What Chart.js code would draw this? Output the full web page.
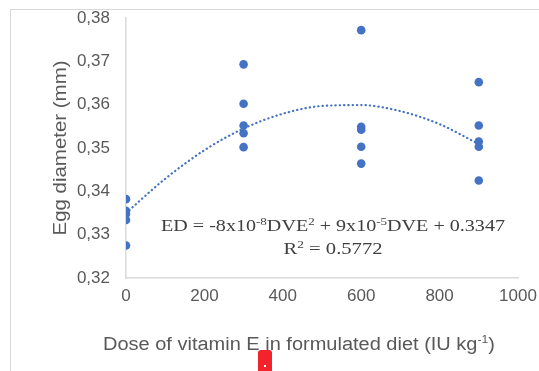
<!DOCTYPE html>
<html>
<head>
<meta charset="utf-8">
<script src="https://cdn.jsdelivr.net/npm/chart.js@4"></script>
<style>
  body { margin: 0; background: #fff; }
  #wrap { position: relative; width: 539px; height: 371px; overflow: hidden; }
  #frame { position: absolute; left: 10px; top: 9px; width: 540px; height: 370px; border: 1px solid #d9d9d9; box-sizing: border-box; }
  #mark { position: absolute; left: 258px; top: 350px; width: 14px; height: 24px; background: #f2232a; border-radius: 3px; }
  #mark::after { content: ''; position: absolute; left: 6px; top: 15px; width: 2px; height: 2px; background: #fff; }
  canvas { position: absolute; left: 0; top: 0; }
</style>
</head>
<body>
<div id="wrap">
  <div id="frame"></div>
  <canvas id="eggChart" width="539" height="371"></canvas>
  <div id="mark"></div>
</div>
<script>
// doses (IU/kg) and egg diameters
const doses = [0, 300, 600, 900];
const diameters = [
    [0.3382, 0.3355, 0.3348, 0.3334, 0.3275],
    [0.3693, 0.3602, 0.3552, 0.3534, 0.3502],
    [0.3772, 0.3549, 0.3542, 0.3503, 0.3464],
    [0.3652, 0.3552, 0.3515, 0.3503, 0.3425]
];

// polynomial trendline as drawn in the figure
const trendDose = [0, 100, 200, 300, 400, 500, 600, 700, 800, 900];
const trendDiam = [0.3350, 0.3429, 0.3495, 0.3545, 0.3579, 0.3597, 0.3599, 0.3585, 0.3555, 0.3509];

const xTicks = [0, 200, 400, 600, 800, 1000];
const yTicks = [0.32, 0.33, 0.34, 0.35, 0.36, 0.37, 0.38];

const eqLine1 = [['ED = -8x10', 0], ['-8', 1], ['DVE', 0], ['2', 1], [' + 9x10', 0], ['-5', 1], ['DVE + 0.3347', 0]];
const eqLine2 = [['R', 0], ['2', 1], [' = 0.5772', 0]];
const xTitle = [['Dose of vitamin E in formulated diet (IU kg', 0], ['-1', 1], [')', 0]];
const yTitle = [['Egg diameter (mm)', 0]];

const BLUE = '#4472c4';
const TEXT = '#595959';
const AXIS = '#d9d9d9';
const SANS = "'Liberation Sans', Arial, sans-serif";
const SERIF = "'Liberation Serif', 'Times New Roman', serif";

const points = [];
doses.forEach((d, i) => diameters[i].forEach(v => points.push({ x: d, y: v })));
const trend = trendDose.map((d, i) => ({ x: d, y: trendDiam[i] }));

// text with superscript parts, centred at (0,0) on the baseline, stretched to width w
function drawParts(ctx, parts, size, family, w) {
    const big = size + 'px ' + family;
    const small = Math.round(size * 0.62) + 'px ' + family;
    let total = 0;
    parts.forEach(([t, sup]) => {
        ctx.font = sup ? small : big;
        total += ctx.measureText(t).width;
    });
    ctx.scale(w / total, 1);
    let x = -total / 2;
    ctx.textAlign = 'left';
    ctx.textBaseline = 'alphabetic';
    parts.forEach(([t, sup]) => {
        ctx.font = sup ? small : big;
        ctx.fillText(t, x, sup ? -size * 0.38 : 0);
        x += ctx.measureText(t).width;
    });
}

function textAt(ctx, parts, x, y, rot, size, family, w) {
    ctx.save();
    ctx.translate(x, y);
    ctx.rotate(rot);
    drawParts(ctx, parts, size, family, w);
    ctx.restore();
}

const labels = {
    id: 'labels',
    afterDraw(chart) {
        const ctx = chart.ctx;
        ctx.save();
        ctx.fillStyle = '#404040';
        textAt(ctx, eqLine1, 333, 231, 0, 17, SERIF, 344);
        textAt(ctx, eqLine2, 333, 254, 0, 17, SERIF, 99);
        ctx.fillStyle = TEXT;
        textAt(ctx, xTitle, 299, 350, 0, 18, SANS, 392);
        textAt(ctx, yTitle, 66, 148, -Math.PI / 2, 18, SANS, 175);
        ctx.restore();
    }
};

new Chart(document.getElementById('eggChart'), {
    type: 'scatter',
    data: {
        datasets: [
            {
                type: 'line',
                data: trend,
                borderColor: BLUE,
                borderWidth: 2.2,
                borderDash: [0.3, 4],
                borderCapStyle: 'round',
                pointRadius: 0,
                cubicInterpolationMode: 'monotone',
                fill: false
            },
            {
                data: points,
                backgroundColor: BLUE,
                borderColor: BLUE,
                pointRadius: 4.3,
                pointBorderWidth: 0
            }
        ]
    },
    options: {
        responsive: false,
        animation: false,
        layout: { padding: { left: 0, right: 21, top: 18, bottom: 0 } },
        plugins: { legend: { display: false }, tooltip: { enabled: false } },
        scales: {
            x: {
                type: 'linear',
                min: 0, max: 1000,
                afterFit: s => { s.height = 93; s.paddingLeft = 0; s.paddingRight = 0; },
                afterBuildTicks: s => { s.ticks = xTicks.map(v => ({ value: v })); },
                grid: { display: false, drawTicks: false },
                border: { display: true, color: AXIS, width: 1.5 },
                ticks: {
                    color: TEXT, padding: 8, font: { family: SANS, size: 17 }, maxRotation: 0,
                    callback: v => String(v)
                }
            },
            y: {
                min: 0.32, max: 0.38,
                afterFit: s => { s.width = 126; s.paddingTop = 0; s.paddingBottom = 0; },
                afterBuildTicks: s => { s.ticks = yTicks.map(v => ({ value: v })); },
                grid: { display: false, drawTicks: false },
                border: { display: true, color: AXIS, width: 1.5 },
                ticks: {
                    color: TEXT, padding: 16, font: { family: SANS, size: 17 },
                    callback: v => v.toFixed(2).replace('.', ',')
                }
            }
        }
    },
    plugins: [labels]
});
</script>
</body>
</html>
